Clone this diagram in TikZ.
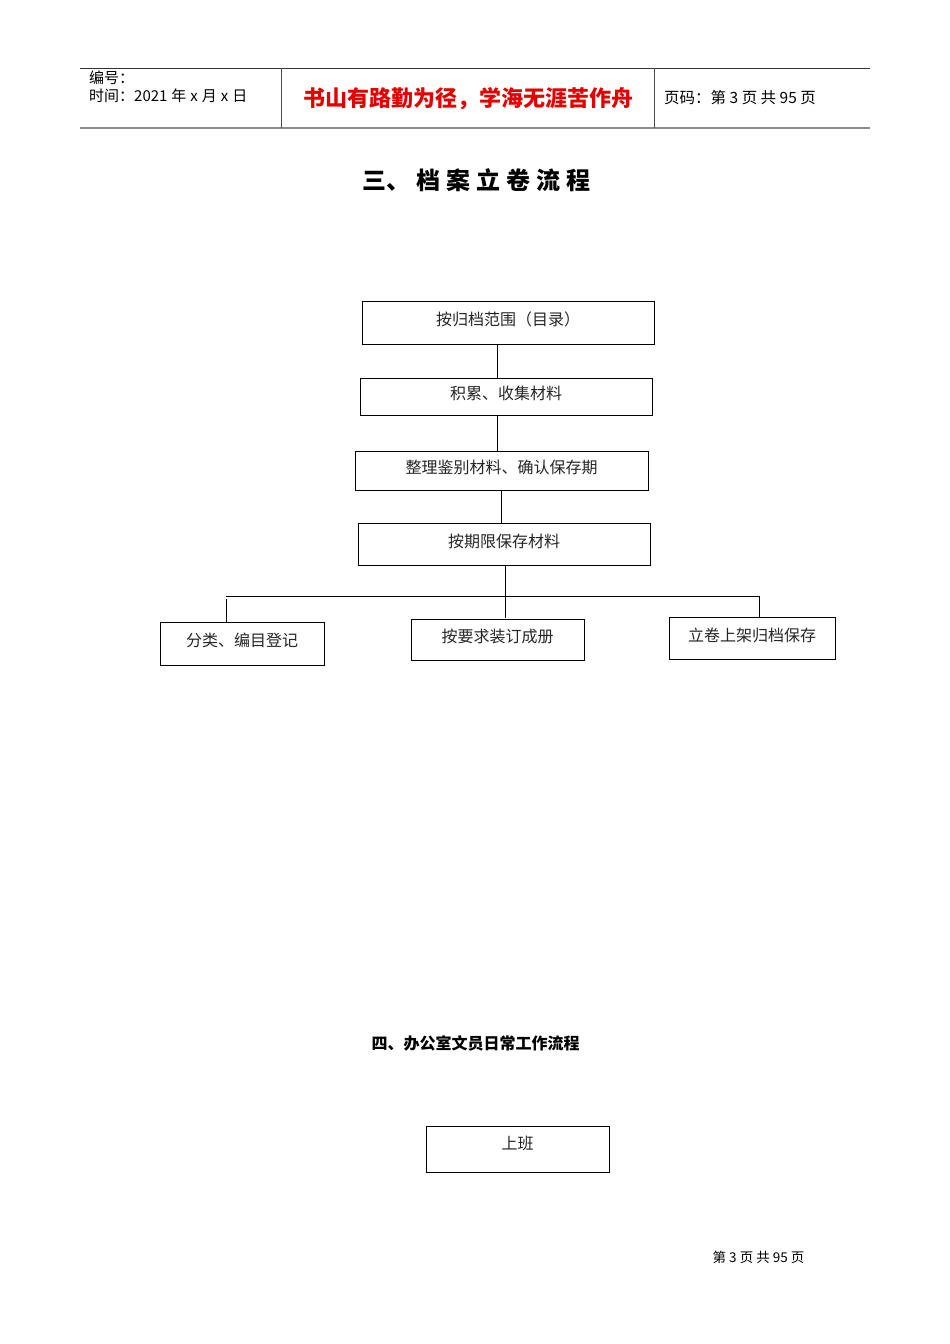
\documentclass[tikz,border=0pt]{standalone}
\usepackage{fontspec}
\setmainfont{Noto Sans CJK SC}
\usepackage{tikz}
\usetikzlibrary{positioning}

\tikzset{
  kuang/.style={draw, line width=1pt, inner sep=0pt, font=\fontsize{16}{16}\selectfont, text=black!85, text depth=7pt},
  xian/.style={line width=1pt},
}

\begin{document}
\begin{tikzpicture}[x=1pt, y=-1pt]
    \useasboundingbox[fill=white] (0,0) rectangle (950,1344);

    % header
    \draw[line width=1pt, black!80] (80,68) -- (870,68);
    \draw[line width=2pt, black!45] (80,128) -- (870,128);
    \draw[line width=1pt, black!70] (281,68) -- (281,128);
    \draw[line width=1pt, black!70] (654,68) -- (654,128);
    \node[anchor=west, inner sep=0pt, font=\fontsize{15}{15}\selectfont] (bianhao) at (89,78) {编号：};
    \node[anchor=west, inner sep=0pt, font=\fontsize{15}{15}\selectfont] (shijian) at (89,96) {时间：2021\hspace{4pt}年\hspace{4pt}x\hspace{4pt}月\hspace{4pt}x\hspace{4pt}日};
    \node[inner sep=0pt, text=red!90!black, font=\fontsize{22}{22}\selectfont\bfseries] (geyan) at (468,99) {书山有路勤为径，学海无涯苦作舟};
    \node[anchor=west, inner sep=0pt, font=\fontsize{15.5}{15.5}\selectfont] (yema) at (664,98) {页码：第 3 页 共 95 页};

    % title
    \node[inner sep=0pt, font=\fontsize{24}{24}\selectfont\bfseries] (biaoti) at (476,180)
        {三、\hspace{6pt}档\hspace{6pt}案\hspace{6pt}立\hspace{6pt}卷\hspace{6pt}流\hspace{6pt}程};

    % flow
    \node[kuang, minimum width=292, minimum height=43] (fanwei) at (508,322.5) {按归档范围（目录）};
    \node[kuang, minimum width=292, minimum height=37] (jilei) at (506,396.5) {积累、收集材料};
    \node[kuang, minimum width=293, minimum height=39] (zhengli) at (501.5,470.5) {整理鉴别材料、确认保存期};
    \node[kuang, minimum width=292, minimum height=42] (baocun) at (504,544) {按期限保存材料};
    \node[kuang, minimum width=164, minimum height=43] (fenlei) at (242,643.5) {分类、编目登记};
    \node[kuang, minimum width=173, minimum height=41] (zhuangding) at (497.5,639.5) {按要求装订成册};
    \node[kuang, minimum width=166, minimum height=42] (lijuan) at (752,638) {立卷上架归档保存};

    \coordinate (zhuL) at (226,596);
    \coordinate (zhuR) at (759,596);

    \path[xian]
        ([xshift=-11]fanwei.south) edge ([xshift=-9]jilei.north)
        ([xshift=-9]jilei.south) edge ([xshift=-4.5]zhengli.north)
        ([xshift=-0.5]zhengli.south) edge ([xshift=-3]baocun.north)
        ([xshift=1]baocun.south) edge ([xshift=7.5,yshift=1]zhuangding.north)
        (zhuL) edge (zhuR)
        ([yshift=-3]zhuL) edge ([xshift=-16]fenlei.north)
        (zhuR) edge ([xshift=7]lijuan.north)
        ;

    % section four
    \node[inner sep=0pt, font=\fontsize{16}{16}\selectfont\bfseries] (biaoti2) at (475.5,1043) {四、办公室文员日常工作流程};
    \node[kuang, minimum width=183, minimum height=46, text depth=12pt] (shangban) at (517.5,1149) {上班};

    % footer
    \node[inner sep=0pt, font=\fontsize{13.5}{13.5}\selectfont] (yejiao) at (758.5,1257) {第 3 页 共 95 页};
\end{tikzpicture}
\end{document}
